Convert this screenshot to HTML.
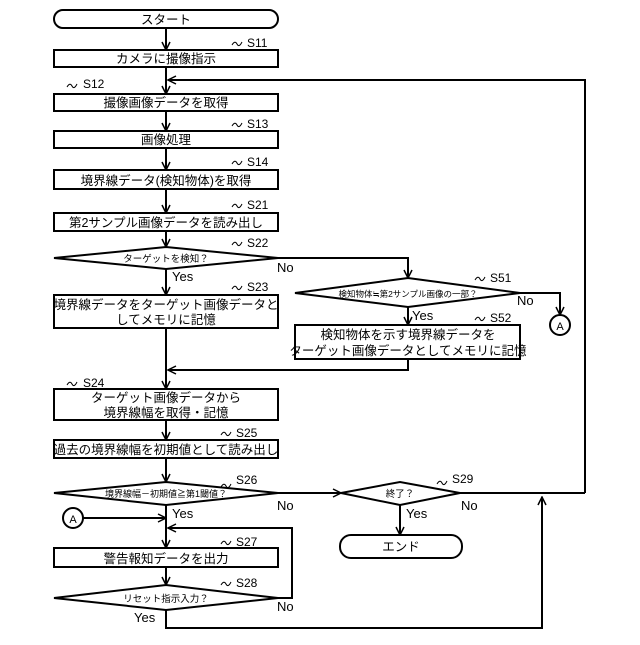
<!DOCTYPE html>
<html><head><meta charset="utf-8"><style>
body{margin:0;background:#fff}
svg text{font-family:"Liberation Sans","Noto Sans CJK JP",sans-serif;fill:#000}
</style></head><body>
<svg width="640" height="640" viewBox="0 0 640 640" xmlns="http://www.w3.org/2000/svg">
<defs><marker id="a" markerWidth="10" markerHeight="10" refX="9" refY="5" orient="auto" markerUnits="userSpaceOnUse"><path d="M1,1 L9,5 L1,9" fill="none" stroke="#000" stroke-width="1.5"/></marker></defs>
<g stroke="#000" stroke-width="2" fill="none">
<rect x="54" y="10" width="224" height="18" rx="9"/>
<rect x="54" y="50" width="224" height="17"/>
<rect x="54" y="94" width="224" height="17"/>
<rect x="54" y="131" width="224" height="17"/>
<rect x="54" y="170" width="224" height="19"/>
<rect x="54" y="213" width="224" height="18"/>
<polygon points="54,258 166,247 278,258 166,269"/>
<rect x="54" y="295" width="224" height="33"/>
<polygon points="295,293 408,278 520,293 408,307"/>
<rect x="295" y="325" width="225" height="34"/>
<circle cx="560" cy="325" r="10"/>
<rect x="54" y="389" width="224" height="31"/>
<rect x="54" y="440" width="224" height="18"/>
<polygon points="54,493 166,482 278,493 166,505"/>
<polygon points="341,493 400,482 460,493 400,505"/>
<rect x="340" y="535" width="122" height="23" rx="11"/>
<circle cx="73" cy="518" r="10"/>
<rect x="54" y="548" width="224" height="19"/>
<polygon points="54,598 166,585 278,598 166,610"/>
</g>
<g stroke="#000" stroke-width="2" fill="none">
<line x1="166" y1="28" x2="166" y2="50" marker-end="url(#a)"/>
<line x1="166" y1="67" x2="166" y2="94" marker-end="url(#a)"/>
<polyline points="585,493 585,80 168,80" marker-end="url(#a)"/>
<line x1="166" y1="111" x2="166" y2="131" marker-end="url(#a)"/>
<line x1="166" y1="148" x2="166" y2="170" marker-end="url(#a)"/>
<line x1="166" y1="189" x2="166" y2="213" marker-end="url(#a)"/>
<line x1="166" y1="231" x2="166" y2="247" marker-end="url(#a)"/>
<line x1="166" y1="269" x2="166" y2="295" marker-end="url(#a)"/>
<polyline points="278,258 408,258 408,278" marker-end="url(#a)"/>
<polyline points="520,293 560,293 560,315" marker-end="url(#a)"/>
<line x1="408" y1="307" x2="408" y2="325" marker-end="url(#a)"/>
<polyline points="408,359 408,370 168,370" marker-end="url(#a)"/>
<line x1="166" y1="328" x2="166" y2="389" marker-end="url(#a)"/>
<line x1="166" y1="420" x2="166" y2="440" marker-end="url(#a)"/>
<line x1="166" y1="458" x2="166" y2="482" marker-end="url(#a)"/>
<line x1="278" y1="493" x2="341" y2="493" marker-end="url(#a)"/>
<line x1="460" y1="493" x2="585" y2="493"/>
<line x1="400" y1="505" x2="400" y2="535" marker-end="url(#a)"/>
<line x1="83" y1="518" x2="166" y2="518" marker-end="url(#a)"/>
<line x1="166" y1="505" x2="166" y2="548" marker-end="url(#a)"/>
<polyline points="278,598 292,598 292,528 168,528" marker-end="url(#a)"/>
<line x1="166" y1="567" x2="166" y2="585" marker-end="url(#a)"/>
<polyline points="166,610 166,628 542,628 542,497" marker-end="url(#a)"/>
</g>
<g font-size="12.5" text-anchor="middle">
<text x="166" y="24">スタート</text>
<text x="166" y="63">カメラに撮像指示</text>
<text x="166" y="107">撮像画像データを取得</text>
<text x="166" y="144">画像処理</text>
<text x="166" y="185">境界線データ(検知物体)を取得</text>
<text x="166" y="227">第2サンプル画像データを読み出し</text>
<text x="166" y="262" font-size="9.5">ターゲットを検知？</text>
<text x="166" y="309">境界線データをターゲット画像データと</text>
<text x="166" y="324">してメモリに記憶</text>
<text x="408" y="297" font-size="8.5">検知物体≒第2サンプル画像の一部？</text>
<text x="408" y="339">検知物体を示す境界線データを</text>
<text x="408" y="355">ターゲット画像データとしてメモリに記憶</text>
<text x="560" y="330" font-size="11">A</text>
<text x="166" y="402">ターゲット画像データから</text>
<text x="166" y="417">境界線幅を取得・記憶</text>
<text x="166" y="454">過去の境界線幅を初期値として読み出し</text>
<text x="166" y="497" font-size="9">境界線幅－初期値≧第1閾値？</text>
<text x="400" y="497" font-size="9.5">終了？</text>
<text x="401" y="551">エンド</text>
<text x="73" y="523" font-size="11">A</text>
<text x="166" y="563">警告報知データを出力</text>
<text x="166" y="602" font-size="9.5">リセット指示入力？</text>
</g>
<g font-size="13">
<text x="172" y="281">Yes</text><text x="277" y="272">No</text>
<text x="412" y="320">Yes</text><text x="517" y="305">No</text>
<text x="172" y="518">Yes</text><text x="277" y="510">No</text>
<text x="406" y="518">Yes</text><text x="461" y="510">No</text>
<text x="277" y="611">No</text><text x="134" y="622">Yes</text>
</g>
<g font-size="12">
<text x="247" y="47">S11</text><text x="83" y="88">S12</text>
<text x="247" y="128">S13</text><text x="247" y="166">S14</text>
<text x="247" y="209">S21</text><text x="247" y="247">S22</text>
<text x="247" y="291">S23</text><text x="490" y="282">S51</text>
<text x="490" y="322">S52</text><text x="83" y="387">S24</text>
<text x="236" y="437">S25</text><text x="236" y="484">S26</text>
<text x="452" y="483">S29</text><text x="236" y="546">S27</text>
<text x="236" y="587">S28</text>
</g>
<g stroke="#000" stroke-width="1" fill="none">
<path d="M232,45 q3,-5 5,-1 q2,4 5,-2"/><path d="M67,87 q3,-5 5,-1 q2,4 5,-2"/>
<path d="M232,126 q3,-5 5,-1 q2,4 5,-2"/><path d="M232,164 q3,-5 5,-1 q2,4 5,-2"/>
<path d="M232,207 q3,-5 5,-1 q2,4 5,-2"/><path d="M232,245 q3,-5 5,-1 q2,4 5,-2"/>
<path d="M232,289 q3,-5 5,-1 q2,4 5,-2"/><path d="M475,280 q3,-5 5,-1 q2,4 5,-2"/>
<path d="M475,320 q3,-5 5,-1 q2,4 5,-2"/><path d="M67,385 q3,-5 5,-1 q2,4 5,-2"/>
<path d="M221,435 q3,-5 5,-1 q2,4 5,-2"/><path d="M221,487 q3,-5 5,-1 q2,4 5,-2"/>
<path d="M437,484 q3,-5 5,-1 q2,4 5,-2"/><path d="M221,544 q3,-5 5,-1 q2,4 5,-2"/>
<path d="M221,585 q3,-5 5,-1 q2,4 5,-2"/>
</g>
</svg>
</body></html>
